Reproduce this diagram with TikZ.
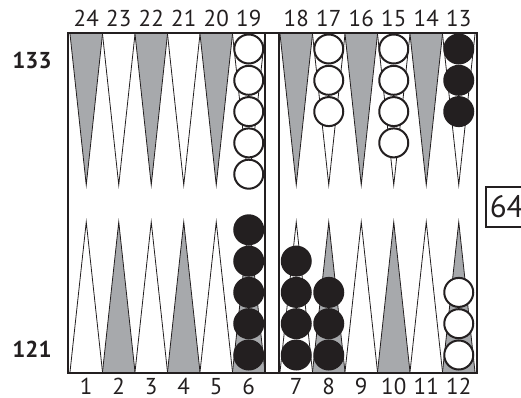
\documentclass[tikz,border=0pt]{standalone}
\usepackage{fontspec}
\setmainfont{PT Sans}
\definecolor{pgrey}{RGB}{167,169,172}
\definecolor{cblack}{RGB}{35,31,32}
\begin{document}
\begin{tikzpicture}[x=1pt,y=-1pt,
  wck/.style={circle,draw=cblack,fill=white,line width=2pt,minimum size=29pt,inner sep=0pt},
  bck/.style={circle,draw=cblack,fill=cblack,line width=2pt,minimum size=29pt,inner sep=0pt},
  lbl/.style={font=\fontsize{23}{23}\selectfont,text=cblack,inner sep=0pt},
  side/.style={font=\fontsize{23}{23}\selectfont\bfseries,text=cblack,inner sep=0pt},
  ptri/.style={draw=cblack,line width=0.8pt},
  frame/.style={draw=cblack,line width=2.2pt}]
\useasboundingbox (0,0) rectangle (521,398);
% points
\foreach \xa/\ct/\cb in {70/pgrey/white,102.5/white/pgrey,135/pgrey/white,167.5/white/pgrey,200/pgrey/white,232.5/white/pgrey,
  280/pgrey/white,312.5/white/pgrey,345/pgrey/white,377.5/white/pgrey,410/pgrey/white,442.5/white/pgrey}{
  \filldraw[ptri,fill=\ct] (\xa,34) -- (\xa+16.25,185) -- (\xa+32.5,34);
  \filldraw[ptri,fill=\cb] (\xa,372) -- (\xa+16.25,222) -- (\xa+32.5,372);
}
% frame
\draw[frame] (68,33) rectangle (477,373);
\draw[frame] (265,33) -- (265,373);
\draw[frame] (279,33) -- (279,373);
% top checkers
\foreach \k in {0,...,4}{ \node[wck] (p19c\k) at (248.75,49+31.3*\k) {}; }
\foreach \k in {0,...,2}{ \node[wck] (p17c\k) at (328.75,49+31.3*\k) {}; }
\foreach \k in {0,...,3}{ \node[wck] (p15c\k) at (393.75,49+31.3*\k) {}; }
\foreach \k in {0,...,2}{ \node[bck] (p13c\k) at (458.75,49+31.3*\k) {}; }
% bottom checkers
\foreach \k in {0,...,4}{ \node[bck] (p6c\k) at (248.75,355-31.3*\k) {}; }
\foreach \k in {0,...,3}{ \node[bck] (p7c\k) at (296.25,355-31.3*\k) {}; }
\foreach \k in {0,...,2}{ \node[bck] (p8c\k) at (328.75,355-31.3*\k) {}; }
\foreach \k in {0,...,2}{ \node[wck] (p12c\k) at (458.75,355-31.3*\k) {}; }
% labels
\foreach \t/\b [count=\i from 0] in {24/1,23/2,22/3,21/4,20/5,19/6}{
  \node[lbl] (t\t) at (86.25+32.5*\i,18.5) {\t};
  \node[lbl] (b\b) at (86.25+32.5*\i,386.5) {\b};
}
\foreach \t/\b [count=\i from 0] in {18/7,17/8,16/9,15/10,14/11,13/12}{
  \node[lbl] (t\t) at (296.25+32.5*\i,18.5) {\t};
  \node[lbl] (b\b) at (296.25+32.5*\i,386.5) {\b};
}
\node[side] (s133) at (32,60) {133};
\node[side] (s121) at (32,349.5) {121};
% cube
\node[draw=cblack,line width=1.5pt,anchor=north west,minimum height=40pt,inner xsep=4pt,inner ysep=0pt,
  font=\fontsize{31}{31}\selectfont,text=cblack] (cube) at (485,186) {64};
\end{tikzpicture}
\end{document}
